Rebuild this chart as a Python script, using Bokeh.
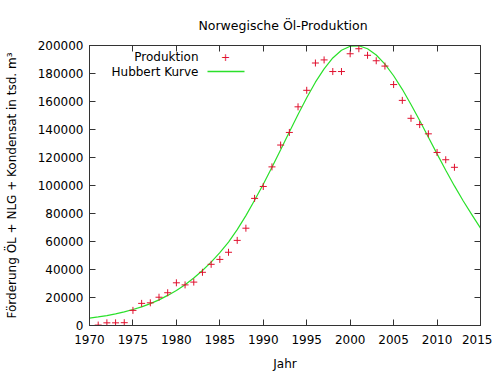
from bokeh.plotting import figure
from bokeh.models import (Range1d, LinearAxis, FixedTicker, Label, BoxAnnotation,
                          CustomLabelingPolicy)
from bokeh.embed import file_html
from bokeh.resources import INLINE

# Production data (tsd. m3)
years = list(range(1971, 2013))
production = [300, 1900, 1900, 2000, 10800, 15800, 16200, 20200, 23400, 30500,
              29000, 31000, 38000, 43700, 47200, 52300, 60800, 69500, 90800, 99300,
              113300, 128900, 137900, 156200, 168000, 187500, 189700, 181400, 181400, 194100,
              197700, 193000, 189100, 185300, 172100, 160800, 148000, 143500, 136900, 123600,
              118400, 113000]

# Hubbert curve at yearly steps
curve_years = list(range(1970, 2016))
hubbert = [5300, 6100, 7100, 8300, 9700, 11400, 13300, 15600, 18300, 21500,
           25000, 29100, 33900, 39300, 45300, 52000, 59600, 68500, 78500, 89500,
           100900, 113000, 125500, 138200, 150700, 162700, 173800, 183300, 191100, 196600,
           199500, 199800, 197700, 193200, 186700, 178400, 168700, 157900, 146400, 134500,
           122600, 110900, 99700, 89100, 79200, 69500]

x_ticks = list(range(1970, 2016, 5))
y_ticks = list(range(0, 200001, 20000))

FONT = "DejaVu Sans"
BORDER = "#333333"
RED = "#e0102e"
GREEN = "#2ae02a"

p = figure(width=492, height=373, output_backend="svg", toolbar_location=None,
           x_range=Range1d(1970, 2015), y_range=Range1d(0, 200000),
           min_border_left=89, min_border_right=12, min_border_top=45, min_border_bottom=46,
           title="Norwegische  Öl-Produktion")

p.title.align = "center"
p.title.text_font = FONT
p.title.text_font_size = "12.5px"
p.title.text_font_style = "normal"
p.title.text_color = "#000000"
p.title.standoff = 26

p.grid.visible = False
p.outline_line_color = BORDER
p.outline_line_width = 1
p.background_fill_color = "white"
p.border_fill_color = "white"

no_labels = CustomLabelingPolicy(code="""
    const ids = [...indices]
    for (const i of ids) indices.unset(i)
    return indices
""")

def style_axis(ax, ticks, show_labels=True):
    ax.ticker = FixedTicker(ticks=ticks)
    ax.major_tick_in = 6
    ax.major_tick_out = 0
    ax.minor_tick_in = 0
    ax.minor_tick_out = 0
    ax.major_tick_line_color = BORDER
    ax.axis_line_color = BORDER
    ax.major_label_text_font = FONT
    ax.major_label_text_color = "#000000"
    ax.major_label_text_font_size = "12px"
    ax.axis_label_text_font = FONT
    ax.axis_label_text_font_style = "normal"
    ax.axis_label_text_font_size = "12px"
    ax.axis_label_text_color = "#000000"
    if not show_labels:
        ax.major_label_policy = no_labels
        ax.major_label_text_font_size = "0px"
        ax.major_label_standoff = 0

style_axis(p.xaxis[0], x_ticks)
style_axis(p.yaxis[0], y_ticks)
p.xaxis[0].axis_label = "Jahr"
p.xaxis[0].major_label_standoff = 9
p.xaxis[0].axis_label_standoff = 10
p.yaxis[0].axis_label = "Förderung ÖL + NLG + Kondensat in tsd. m³"
p.yaxis[0].major_label_standoff = 6
p.yaxis[0].axis_label_standoff = 16
p.yaxis[0].formatter.use_scientific = False

top_ax = LinearAxis()
style_axis(top_ax, x_ticks, show_labels=False)
p.add_layout(top_ax, "above")
right_ax = LinearAxis()
style_axis(right_ax, y_ticks, show_labels=False)
p.add_layout(right_ax, "right")

p.line(curve_years, hubbert, line_color=GREEN, line_width=1.2)
p.scatter(years, production, marker="cross", size=7, line_color=RED, line_width=1)

# Gnuplot-style key: text right-aligned, sample to the right
p.add_layout(Label(x=109, y=269, x_units="screen", y_units="screen", text="Produktion",
                   text_align="right", text_baseline="middle", text_font=FONT,
                   text_font_size="12px", text_color="#000000"))
p.add_layout(Label(x=109, y=254, x_units="screen", y_units="screen", text="Hubbert Kurve",
                   text_align="right", text_baseline="middle", text_font=FONT,
                   text_font_size="12px", text_color="#000000"))
p.add_layout(Label(x=136, y=269, x_units="screen", y_units="screen", text="+",
                   text_align="center", text_baseline="middle", text_font=FONT,
                   text_font_size="11px", text_color=RED))
p.add_layout(BoxAnnotation(left=118, right=155, bottom=253.2, top=254.8,
                           left_units="screen", right_units="screen",
                           bottom_units="screen", top_units="screen",
                           fill_color=GREEN, fill_alpha=1, line_color=None))

open("out.html", "w").write(file_html(p, INLINE))
